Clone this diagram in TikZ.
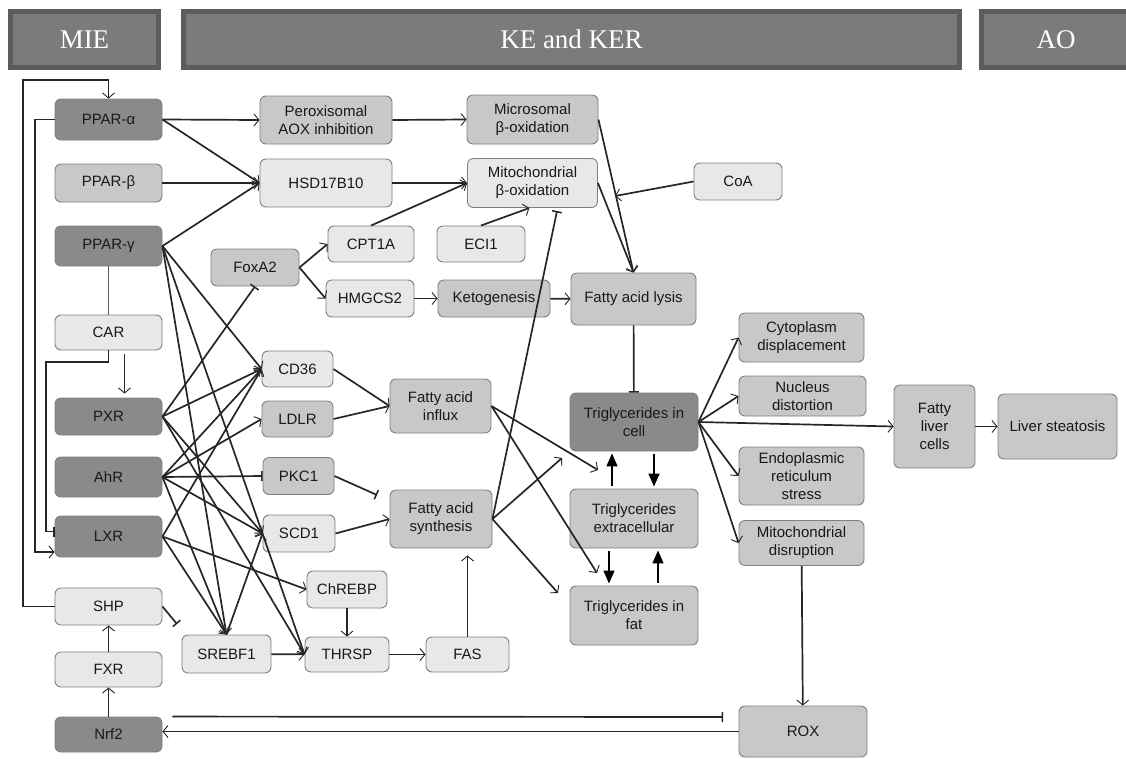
\documentclass[tikz,border=0pt]{standalone}
\usepackage{fontspec}
\setmainfont{Liberation Sans}
\newfontfamily\headfont{Liberation Serif}
\usetikzlibrary{arrows.meta,positioning,calc}
\definecolor{boxdk}{HTML}{8A8A8A}
\definecolor{boxmd}{HTML}{C8C8C8}
\definecolor{boxlt}{HTML}{E8E8E8}
\definecolor{hdrfill}{HTML}{7B7B7B}
\definecolor{hdrline}{HTML}{5C5C5C}
\definecolor{edge}{HTML}{262626}

\begin{document}
\begin{tikzpicture}[x=1pt,y=-1pt,
  box/.style={draw=black!50, rounded corners=6pt, align=center, inner sep=1pt,
    line width=0.9pt, text=black!90, font=\fontsize{15}{18}\selectfont},
  dkbox/.style={box, fill=boxdk},
  mdbox/.style={box, fill=boxmd},
  ltbox/.style={box, fill=boxlt},
  wh/.style 2 args={minimum width=#1pt, minimum height=#2pt},
  hdr/.style={draw=hdrline, line width=5pt, fill=hdrfill, text=white,
    font=\headfont\fontsize{27}{30}\selectfont},
  arr/.style={draw=edge, line width=1.7pt,
    -{Straight Barb[length=5pt,width=12pt,line width=0.9pt]}},
  inh/.style={draw=edge, line width=1.7pt, -{Bar[width=10pt,line width=1.5pt]}},
  ln/.style={draw=edge!75, line width=1.7pt},
  fil/.style={draw=black, line width=1.5pt, shorten >=2pt, shorten <=3pt,
    -{Triangle[length=13pt,width=11pt]}},
]
\useasboundingbox (0,0) rectangle (1126,758);

% headers
\node[hdr, wh={148}{56}] (mie) at (84.5,39.5) {MIE};
\node[hdr, wh={776}{56}] (ke) at (571.5,39.5) {KE and KER};
\node[hdr, wh={150}{56}] (ao) at (1056,39.5) {AO};

% molecular initiating events
\node[dkbox, wh={107}{41}] (ppara) at (108.5,119.5) {PPAR-α};
\node[mdbox, wh={107}{38}] (pparb) at (108.5,183) {PPAR-β};
\node[dkbox, wh={107}{40}] (pparg) at (108.5,246) {PPAR-γ};
\node[ltbox, wh={107}{35}] (car) at (108.5,332.5) {CAR};
\node[dkbox, wh={107}{37}] (pxr) at (108.5,416.5) {PXR};
\node[dkbox, wh={107}{40}] (ahr) at (108.5,477) {AhR};
\node[dkbox, wh={107}{41}] (lxr) at (108.5,536.5) {LXR};
\node[ltbox, wh={107}{37}] (shp) at (108.5,606.5) {SHP};
\node[ltbox, wh={107}{35}] (fxr) at (108.5,669.5) {FXR};
\node[dkbox, wh={107}{35}] (nrf) at (108.5,734.5) {Nrf2};

% key events, first columns
\node[mdbox, wh={132}{48}] (perox) at (326,120) {Peroxisomal\\AOX inhibition};
\node[ltbox, wh={132}{48}] (hsd) at (326,183) {HSD17B10};
\node[mdbox, wh={88}{37}] (foxa) at (255,267.5) {FoxA2};
\node[ltbox, wh={86}{36}] (cpt) at (371,244) {CPT1A};
\node[ltbox, wh={88}{37}] (hmg) at (370,298.5) {HMGCS2};
\node[ltbox, wh={71}{36}] (cd36) at (297.5,369) {CD36};
\node[mdbox, wh={71}{36}] (ldlr) at (297.5,419) {LDLR};
\node[mdbox, wh={71}{37}] (pkc) at (298.5,476) {PKC1};
\node[ltbox, wh={72}{37}] (scd) at (299,533.5) {SCD1};
\node[ltbox, wh={80}{37}] (chrebp) at (347,589.5) {ChREBP};
\node[ltbox, wh={89}{38}] (srebf) at (226.5,654) {SREBF1};
\node[ltbox, wh={84}{35}] (thrsp) at (347,654.5) {THRSP};
\node[ltbox, wh={83}{35}] (fas) at (467.5,654.5) {FAS};

\node[mdbox, wh={131}{49}] (micro) at (532.5,119.5) {Microsomal\\β-oxidation};
\node[ltbox, wh={130}{49}] (mito) at (532.5,183) {Mitochondrial\\β-oxidation};
\node[ltbox, wh={88}{36}] (eci) at (481,244) {ECI1};
\node[mdbox, wh={112}{37}] (keto) at (494,298.5) {Ketogenesis};
\node[mdbox, wh={101}{54}] (influx) at (440.5,406) {Fatty acid\\influx};
\node[mdbox, wh={102}{58}] (synth) at (441,519) {Fatty acid\\synthesis};

% key events, right columns
\node[mdbox, wh={125}{52}] (lysis) at (633.5,299) {Fatty acid lysis};
\node[ltbox, wh={88}{37}] (coa) at (738,181.5) {CoA};
\node[dkbox, wh={128}{58}] (tgcell) at (634,422) {Triglycerides in\\cell};
\node[mdbox, wh={128}{59}] (tgext) at (634,518.5) {Triglycerides\\extracellular};
\node[mdbox, wh={128}{59}] (tgfat) at (634,615.5) {Triglycerides in\\fat};
\node[mdbox, wh={125}{49}] (cyto) at (801.5,337.5) {Cytoplasm\\displacement};
\node[mdbox, wh={127}{40}] (nucl) at (802.5,396) {Nucleus\\distortion};
\node[mdbox, wh={125}{58}] (er) at (801.5,476) {Endoplasmic\\reticulum\\stress};
\node[mdbox, wh={125}{45}] (mitod) at (801.5,543) {Mitochondrial\\disruption};
\node[mdbox, wh={81}{83}] (flc) at (934.5,426.5) {Fatty\\liver\\cells};
\node[mdbox, wh={119}{65}] (steat) at (1057.5,426.5) {Liver steatosis};
\node[mdbox, wh={128}{51}] (rox) at (803,731.5) {ROX};

% free ends
\coordinate (loopA) at (23,80);
\coordinate (loopB) at (35,552);
\coordinate (loopC) at (46,362);
\coordinate (coaEnd) at (615,196);
\coordinate (mitoBar) at (557,211);
\coordinate (tgA) at (598,470);
\coordinate (tgB) at (597,573);
\coordinate (tgC) at (562,458);
\coordinate (tgD) at (558,593);
\coordinate (pkcBar) at (377,495);
\coordinate (shpBar) at (177,624);
\coordinate (roxBar) at (723,717);

% feedback loops on the left
\draw[arr] (shp.west) -| (loopA) -| (ppara.north);
\draw[arr] (ppara.west) -| (loopB) -- (loopB -| lxr.west);
\draw[inh] (car.south) |- (loopC) |- ([yshift=5pt]lxr.west);
\draw[ln] (pparg) -- (car);
\draw[arr] ([xshift=16pt,yshift=-4pt]car.south) -- ([xshift=16pt,yshift=4pt]pxr.north);
\draw[arr] (fxr) -- (shp);
\draw[arr] (nrf) -- (fxr);
\draw[inh] (shp.east) -- (shpBar);
\draw[inh] ([xshift=10pt]nrf.north east) -- (roxBar);
\draw[arr] (rox.west) -- (rox.west -| nrf.east);

% oxidation branch
\draw[arr] (ppara.east) -- (perox.west);
\draw[arr] (ppara.east) -- (hsd.west);
\draw[arr] (pparb.east) -- (hsd.west);
\draw[arr] (pparg.east) -- (hsd.west);
\draw[arr] (perox.east) -- (micro.west);
\draw[arr] (hsd.east) -- (mito.west);
\draw[arr] (cpt.north) -- (mito.west);
\draw[arr] (eci.north) -- ([xshift=-3pt]mito.south);
\draw[arr] (micro.east) -- (lysis.north);
\draw[arr] (mito.east) -- (lysis.north);
\draw[arr] (coa.west) -- (coaEnd);
\draw[arr] (foxa.east) -- (cpt.west);
\draw[arr] (foxa.east) -- (hmg.west);
\draw[arr] (hmg) -- (keto);
\draw[arr] (keto) -- (lysis);
\draw[inh] (lysis) -- (tgcell);

% receptors to target genes
\draw[arr] (pparg.east) -- (cd36.west);
\draw[arr] (pparg.east) -- (srebf.north);
\draw[arr] (pparg.east) -- (thrsp.west);
\draw[inh] (pxr.east) -- (foxa.south);
\draw[arr] (pxr.east) -- (cd36.west);
\draw[arr] (pxr.east) -- (scd.west);
\draw[arr] (pxr.east) -- (thrsp.west);
\draw[arr] (ahr.east) -- (cd36.west);
\draw[arr] (ahr.east) -- (ldlr.west);
\draw[inh] (ahr.east) -- (pkc.west);
\draw[arr] (ahr.east) -- (scd.west);
\draw[arr] (ahr.east) -- (srebf.north);
\draw[arr] (lxr.east) -- (cd36.west);
\draw[arr] (lxr.east) -- (chrebp.west);
\draw[arr] (lxr.east) -- (srebf.north);
\draw[arr] (srebf.north) -- (scd.west);
\draw[arr] (srebf) -- (thrsp);
\draw[arr] (chrebp) -- (thrsp);
\draw[arr] (thrsp) -- (fas);
\draw[arr, shorten >=7pt] (fas.north) -- (fas.north |- synth.south);

% fatty acid handling
\draw[arr] (cd36.east) -- (influx.west);
\draw[arr] (ldlr.east) -- (influx.west);
\draw[inh] (pkc.east) -- (pkcBar);
\draw[arr] (scd.east) -- (synth.west);
\draw[arr] (influx.east) -- (tgA);
\draw[arr] (influx.east) -- (tgB);
\draw[arr] (synth.east) -- (tgC);
\draw[arr] (synth.east) -- (tgD);
\draw[inh] (synth.east) -- (mitoBar);
\draw[fil] ([xshift=-22pt]tgext.north) -- ([xshift=-22pt]tgcell.south);
\draw[fil] ([xshift=20pt]tgcell.south) -- ([xshift=20pt]tgext.north);
\draw[fil] ([xshift=-25pt]tgext.south) -- ([xshift=-25pt]tgfat.north);
\draw[fil] ([xshift=24pt]tgfat.north) -- ([xshift=24pt]tgext.south);

% adverse outcome
\draw[arr] (tgcell.east) -- (cyto.west);
\draw[arr] (tgcell.east) -- (nucl.west);
\draw[arr] (tgcell.east) -- (flc.west);
\draw[arr] (tgcell.east) -- (er.west);
\draw[arr] (tgcell.east) -- (mitod.west);
\draw[arr] (flc) -- (steat);
\draw[arr] (mitod) -- (rox);
\end{tikzpicture}
\end{document}
